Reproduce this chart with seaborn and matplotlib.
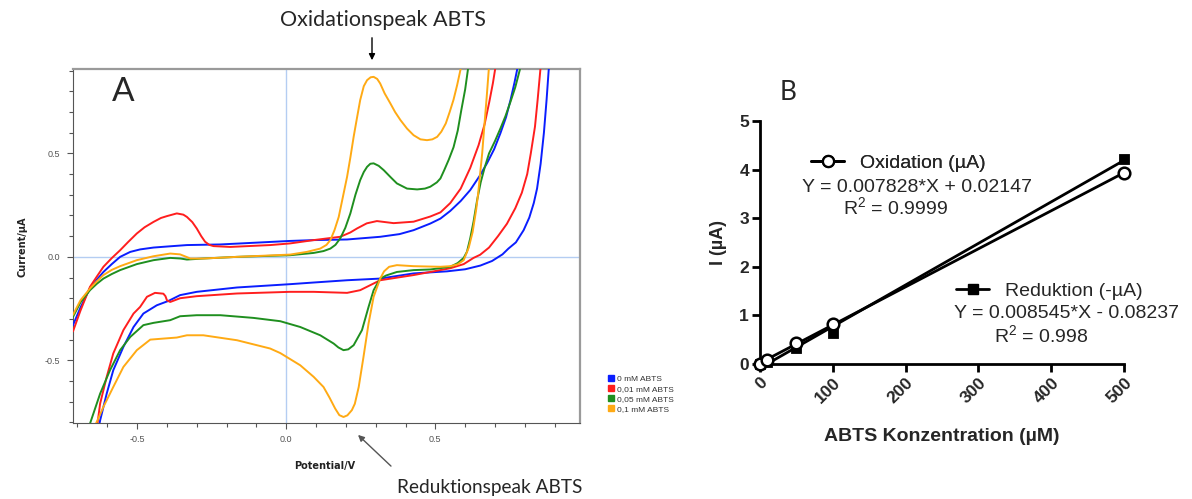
import matplotlib
matplotlib.use("Agg")
import matplotlib.pyplot as plt
from matplotlib.lines import Line2D
from matplotlib.ticker import MultipleLocator
import numpy as np
import pandas as pd
import seaborn as sns

# ---------------- Panel A: cyclic voltammograms (E in V, I in µA) ----------------
series_labels = ["0 mM ABTS", "0,01 mM ABTS", "0,05 mM ABTS", "0,1 mM ABTS"]
series_colors = ["#0a1eff", "#ff1e1e", "#1f8f1f", "#ffaa14"]

blue_fwd = [(-0.715, -0.33), (-0.69, -0.245), (-0.658, -0.15), (-0.635, -0.11), (-0.613, -0.073),
            (-0.585, -0.035), (-0.557, 0.0), (-0.523, 0.024), (-0.49, 0.036), (-0.445, 0.045),
            (-0.39, 0.051), (-0.333, 0.057), (-0.221, 0.06), (-0.11, 0.068), (0.013, 0.077),
            (0.092, 0.081), (0.204, 0.084), (0.315, 0.097), (0.38, 0.11), (0.427, 0.129),
            (0.483, 0.161), (0.517, 0.185), (0.55, 0.222), (0.585, 0.27), (0.617, 0.323),
            (0.648, 0.39), (0.673, 0.452), (0.697, 0.52), (0.718, 0.597), (0.737, 0.675),
            (0.752, 0.758), (0.765, 0.84), (0.774, 0.903), (0.782, 0.96)]
blue_rev = [(0.886, 0.96), (0.88, 0.903), (0.873, 0.76), (0.864, 0.6), (0.853, 0.45), (0.841, 0.33),
            (0.83, 0.26), (0.815, 0.19), (0.796, 0.129), (0.77, 0.07), (0.745, 0.04), (0.725, 0.012),
            (0.69, -0.02), (0.651, -0.042), (0.6, -0.06), (0.539, -0.07), (0.427, -0.08),
            (0.315, -0.105), (0.204, -0.113), (0.092, -0.124), (0.013, -0.132), (-0.165, -0.148),
            (-0.30, -0.169), (-0.356, -0.185), (-0.395, -0.213), (-0.434, -0.234), (-0.479, -0.274),
            (-0.512, -0.339), (-0.546, -0.435), (-0.58, -0.548), (-0.602, -0.661), (-0.624, -0.79),
            (-0.632, -0.85)]

red_fwd = [(-0.715, -0.36), (-0.69, -0.26), (-0.658, -0.145), (-0.635, -0.095), (-0.613, -0.048),
           (-0.585, -0.006), (-0.557, 0.032), (-0.53, 0.072), (-0.501, 0.113), (-0.475, 0.143),
           (-0.445, 0.169), (-0.42, 0.188), (-0.40, 0.197), (-0.367, 0.21), (-0.345, 0.204),
           (-0.333, 0.193), (-0.315, 0.168), (-0.30, 0.137), (-0.285, 0.1), (-0.272, 0.073),
           (-0.258, 0.058), (-0.244, 0.052), (-0.188, 0.048), (-0.054, 0.057), (0.013, 0.065),
           (0.092, 0.081), (0.181, 0.097), (0.215, 0.118), (0.237, 0.137), (0.27, 0.162),
           (0.304, 0.173), (0.36, 0.163), (0.427, 0.17), (0.483, 0.195), (0.517, 0.215),
           (0.55, 0.26), (0.585, 0.33), (0.617, 0.43), (0.645, 0.54), (0.665, 0.64),
           (0.681, 0.75), (0.693, 0.84), (0.7, 0.903), (0.706, 0.96)]
red_rev = [(0.856, 0.96), (0.852, 0.903), (0.843, 0.76), (0.834, 0.629), (0.82, 0.5), (0.808, 0.40),
           (0.79, 0.31), (0.768, 0.235), (0.74, 0.16), (0.71, 0.1), (0.68, 0.045), (0.65, 0.01),
           (0.628, -0.005), (0.595, -0.035), (0.55, -0.055), (0.483, -0.073), (0.427, -0.088),
           (0.315, -0.113), (0.248, -0.161), (0.204, -0.174), (0.092, -0.169), (0.013, -0.169),
           (-0.165, -0.177), (-0.30, -0.19), (-0.356, -0.20), (-0.389, -0.218), (-0.40, -0.21),
           (-0.405, -0.19), (-0.412, -0.178), (-0.44, -0.174), (-0.467, -0.193), (-0.49, -0.242),
           (-0.512, -0.274), (-0.546, -0.354), (-0.58, -0.467), (-0.602, -0.58), (-0.624, -0.709),
           (-0.633, -0.806), (-0.637, -0.85)]

green_fwd = [(-0.715, -0.29), (-0.69, -0.22), (-0.658, -0.161), (-0.635, -0.13), (-0.613, -0.105),
             (-0.585, -0.083), (-0.557, -0.064), (-0.501, -0.035), (-0.445, -0.016), (-0.389, -0.005),
             (-0.355, -0.008), (-0.333, -0.013), (-0.278, -0.008), (-0.165, 0.0), (0.013, 0.008),
             (0.092, 0.019), (0.125, 0.028), (0.148, 0.04), (0.165, 0.058), (0.181, 0.089),
             (0.198, 0.14), (0.215, 0.21), (0.232, 0.30), (0.248, 0.371), (0.26, 0.41),
             (0.271, 0.435), (0.282, 0.45), (0.293, 0.452), (0.31, 0.44), (0.327, 0.419),
             (0.35, 0.385), (0.371, 0.355), (0.405, 0.33), (0.439, 0.326), (0.465, 0.33),
             (0.483, 0.339), (0.505, 0.36), (0.517, 0.379), (0.53, 0.42), (0.545, 0.47),
             (0.561, 0.53), (0.575, 0.61), (0.587, 0.709), (0.6, 0.81), (0.609, 0.903), (0.614, 0.96)]
green_rev = [(0.788, 0.96), (0.783, 0.903), (0.768, 0.82), (0.752, 0.75), (0.735, 0.68), (0.718, 0.62),
             (0.7, 0.56), (0.68, 0.5), (0.665, 0.43), (0.652, 0.36), (0.64, 0.274), (0.628, 0.17),
             (0.617, 0.09), (0.606, 0.025), (0.595, -0.005), (0.575, -0.03), (0.55, -0.048),
             (0.483, -0.061), (0.427, -0.064), (0.371, -0.073), (0.335, -0.09), (0.315, -0.105),
             (0.293, -0.161), (0.276, -0.242), (0.254, -0.354), (0.226, -0.427), (0.208, -0.447),
             (0.192, -0.451), (0.175, -0.438), (0.159, -0.419), (0.114, -0.379), (0.047, -0.339),
             (-0.02, -0.311), (-0.11, -0.295), (-0.221, -0.282), (-0.30, -0.282), (-0.356, -0.287),
             (-0.389, -0.306), (-0.445, -0.319), (-0.479, -0.33), (-0.523, -0.387), (-0.557, -0.451),
             (-0.591, -0.548), (-0.624, -0.661), (-0.658, -0.806), (-0.665, -0.85)]

orange_fwd = [(-0.715, -0.28), (-0.69, -0.21), (-0.658, -0.153), (-0.635, -0.118), (-0.613, -0.088),
              (-0.585, -0.063), (-0.557, -0.045), (-0.501, -0.016), (-0.445, 0.003), (-0.389, 0.016),
              (-0.356, 0.012), (-0.335, 0.0), (-0.322, -0.008), (-0.278, -0.008), (-0.165, 0.0),
              (0.013, 0.011), (0.069, 0.024), (0.114, 0.04), (0.135, 0.058), (0.148, 0.081),
              (0.162, 0.13), (0.176, 0.193), (0.19, 0.29), (0.204, 0.387), (0.215, 0.48),
              (0.226, 0.58), (0.237, 0.67), (0.248, 0.758), (0.26, 0.825), (0.271, 0.854),
              (0.283, 0.868), (0.293, 0.87), (0.305, 0.86), (0.315, 0.838), (0.33, 0.79),
              (0.349, 0.742), (0.365, 0.70), (0.383, 0.661), (0.405, 0.62), (0.427, 0.588),
              (0.45, 0.568), (0.472, 0.564), (0.49, 0.568), (0.506, 0.58), (0.52, 0.605),
              (0.535, 0.645), (0.548, 0.7), (0.561, 0.76), (0.573, 0.83), (0.584, 0.903), (0.59, 0.96)]
orange_rev = [(0.682, 0.96), (0.679, 0.903), (0.672, 0.77), (0.664, 0.629), (0.657, 0.5), (0.65, 0.40),
              (0.643, 0.3), (0.637, 0.23), (0.625, 0.12), (0.612, 0.045), (0.595, -0.016),
              (0.575, -0.036), (0.55, -0.045), (0.517, -0.048), (0.427, -0.045), (0.371, -0.04),
              (0.345, -0.048), (0.328, -0.07), (0.315, -0.105), (0.293, -0.193), (0.276, -0.322),
              (0.259, -0.484), (0.243, -0.629), (0.23, -0.71), (0.22, -0.741), (0.205, -0.766),
              (0.192, -0.774), (0.178, -0.765), (0.164, -0.733), (0.145, -0.68), (0.125, -0.629),
              (0.092, -0.58), (0.047, -0.524), (-0.02, -0.465), (-0.054, -0.443), (-0.165, -0.403),
              (-0.278, -0.379), (-0.333, -0.379), (-0.367, -0.39), (-0.412, -0.395), (-0.456, -0.40),
              (-0.501, -0.451), (-0.546, -0.532), (-0.58, -0.629), (-0.613, -0.725), (-0.638, -0.806),
              (-0.645, -0.85)]

branches = [
    ("0 mM ABTS", "fwd", blue_fwd), ("0 mM ABTS", "rev", blue_rev),
    ("0,01 mM ABTS", "fwd", red_fwd), ("0,01 mM ABTS", "rev", red_rev),
    ("0,05 mM ABTS", "fwd", green_fwd), ("0,05 mM ABTS", "rev", green_rev),
    ("0,1 mM ABTS", "fwd", orange_fwd), ("0,1 mM ABTS", "rev", orange_rev),
]

# ---------------- Panel B: peak currents vs. concentration ----------------
conc_uM = [0, 10, 50, 100, 500]
ox_peak = [0.0, 0.09, 0.44, 0.83, 3.93]
red_peak = [0.0, 0.05, 0.32, 0.64, 4.22]
ox_slope, ox_icpt = 0.007828, 0.02147
red_slope, red_icpt = 0.008545, -0.08237

# ---------------- figure ----------------
sns.set_theme(style="white")
plt.rcParams["font.family"] = ["Liberation Sans", "DejaVu Sans"]
plt.rcParams["mathtext.fontset"] = "custom"
plt.rcParams["mathtext.rm"] = "Liberation Sans"
plt.rcParams["mathtext.it"] = "Liberation Sans:italic"
plt.rcParams["mathtext.bf"] = "Liberation Sans:bold"

W, H = 1192, 499
fig = plt.figure(figsize=(W / 100, H / 100), dpi=100)
fig.patch.set_facecolor("white")


def fx(px):
    return px / W


def fy(py):
    return 1 - py / H


# ---- panel A ----
axA = fig.add_axes([fx(73), fy(423), fx(580) - fx(73), fy(69) - fy(423)])
rows = []
for label, branch, pts in branches:
    for k, (e, i) in enumerate(pts):
        rows.append({"E": e, "I": i, "ABTS": label, "unit": f"{label}-{branch}", "k": k})
cv = pd.DataFrame(rows)

axA.axhline(0, color="#b4cdf2", lw=1.0, zorder=1)
axA.axvline(0, color="#b4cdf2", lw=1.0, zorder=1)
sns.lineplot(data=cv, x="E", y="I", hue="ABTS", hue_order=series_labels,
             palette=series_colors, units="unit", estimator=None, sort=False,
             lw=1.4, legend=False, ax=axA, zorder=3)
axA.set_xlim(-0.715, 0.985)
axA.set_ylim(-0.803, 0.908)
axA.xaxis.set_major_locator(MultipleLocator(0.5))
axA.xaxis.set_minor_locator(MultipleLocator(0.1))
axA.yaxis.set_major_locator(MultipleLocator(0.5))
axA.yaxis.set_minor_locator(MultipleLocator(0.1))
axA.xaxis.set_major_formatter(matplotlib.ticker.FormatStrFormatter("%.1f"))
axA.yaxis.set_major_formatter(matplotlib.ticker.FormatStrFormatter("%.1f"))
axA.tick_params(which="both", direction="out", color="#555555", labelcolor="#555555",
                labelsize=6.5, width=0.8, bottom=True, left=True)
axA.tick_params(which="major", length=4, pad=5)
axA.tick_params(which="minor", length=3)
for side in ["left", "bottom"]:
    axA.spines[side].set_color("#555555")
    axA.spines[side].set_linewidth(0.8)
for side in ["top", "right"]:
    axA.spines[side].set_color("#9a9a9a")
    axA.spines[side].set_linewidth(1.6)
axA.set_xlabel("")
axA.set_ylabel("")
fig.text(fx(23), fy(247), "Current/µA", rotation=90, ha="center", va="center",
         fontsize=7, fontweight="bold", family="DejaVu Sans", color="#222222")
fig.text(fx(325), fy(466), "Potential/V", ha="center", va="center",
         fontsize=7, fontweight="bold", family="DejaVu Sans", color="#222222")
fig.text(fx(123), fy(92), "A", ha="center", va="center", fontsize=24, family="Lato")

handlesA = [Line2D([], [], marker="s", linestyle="none", markersize=5, color=c) for c in series_colors]
fig.legend(handlesA, series_labels, loc="upper left", bbox_to_anchor=(fx(603), fy(371)),
           frameon=False, fontsize=6, handlelength=0.8, handletextpad=0.4,
           labelspacing=0.25, borderpad=0, labelcolor="#333333")

fig.text(fx(383), fy(20), "Oxidationspeak ABTS", ha="center", va="center",
         fontsize=15.5, family="Lato")
fig.add_artist(matplotlib.patches.FancyArrowPatch(
    (fx(372), fy(35)), (fx(372), fy(63)), transform=fig.transFigure,
    arrowstyle="-|>", mutation_scale=9, color="black", lw=1.0))
fig.text(fx(490), fy(487), "Reduktionspeak ABTS", ha="center", va="center",
         fontsize=13.7, family="Lato")
fig.add_artist(matplotlib.patches.FancyArrowPatch(
    (fx(393), fy(468)), (fx(356), fy(433)), transform=fig.transFigure,
    arrowstyle="-|>", mutation_scale=9, color="#555555", lw=1.0))

# ---- panel B ----
axB = fig.add_axes([fx(760), fy(364), fx(1124) - fx(760), fy(121) - fy(364)])
peaks = pd.DataFrame({"conc": conc_uM, "ox": ox_peak, "red": red_peak})
x_end = [min(conc_uM), max(conc_uM)]
fits = pd.DataFrame({
    "conc": x_end,
    "ox": [ox_slope * x + ox_icpt for x in x_end],
    "red": [red_slope * x + red_icpt for x in x_end],
})
sns.lineplot(data=fits, x="conc", y="red", color="black", lw=2, ax=axB, zorder=2)
sns.lineplot(data=fits, x="conc", y="ox", color="black", lw=2, ax=axB, zorder=2)
sns.scatterplot(data=peaks, x="conc", y="red", marker="s", s=55, color="black",
                edgecolor="black", ax=axB, zorder=4, clip_on=False)
sns.scatterplot(data=peaks, x="conc", y="ox", marker="o", s=70, facecolor="white",
                edgecolor="black", linewidth=1.8, ax=axB, zorder=5, clip_on=False)
axB.set_xlim(0, 500)
axB.set_ylim(0, 5)
axB.set_xticks([0, 100, 200, 300, 400, 500])
axB.set_yticks([0, 1, 2, 3, 4, 5])
sns.despine(ax=axB)
for side in ["left", "bottom"]:
    axB.spines[side].set_linewidth(2)
    axB.spines[side].set_color("black")
axB.tick_params(direction="out", length=6, width=2, color="black", labelsize=12.5,
                bottom=True, left=True, pad=2)
for lab in axB.get_xticklabels():
    lab.set_rotation(45)
    lab.set_ha("right")
    lab.set_va("top")
    lab.set_rotation_mode("anchor")
    lab.set_fontweight("bold")
for lab in axB.get_yticklabels():
    lab.set_fontweight("bold")
axB.set_xlabel("ABTS Konzentration (µM)", fontsize=14, fontweight="bold", labelpad=16)
axB.set_ylabel("I (µA)", fontsize=13, fontweight="bold", labelpad=9)
fig.text(fx(788), fy(92), "B", ha="center", va="center", fontsize=19, family="Lato")

h_ox = Line2D([], [], color="black", lw=2, marker="o", markersize=8,
              markerfacecolor="white", markeredgewidth=1.6)
h_red = Line2D([], [], color="black", lw=2, marker="s", markersize=7)
legB1 = fig.legend([h_ox], ["Oxidation (µA)"], loc="center left",
                   bbox_to_anchor=(fx(811), fy(163)), frameon=False, fontsize=14,
                   handlelength=1.7, handletextpad=0.8, borderpad=0, borderaxespad=0)
fig.legend([h_red], ["Reduktion (-µA)"], loc="center left",
           bbox_to_anchor=(fx(956), fy(291)), frameon=False, fontsize=14,
           handlelength=1.7, handletextpad=0.8, borderpad=0, borderaxespad=0)
fig.add_artist(legB1)
fig.text(fx(917), fy(187), f"Y = {ox_slope:.6f}*X + {ox_icpt:.5f}", ha="center", va="center", fontsize=14)
fig.text(fx(896), fy(207), r"R$^{2}$ = 0.9999", ha="center", va="center", fontsize=14)
fig.text(fx(1067), fy(313), f"Y = {red_slope:.6f}*X - {abs(red_icpt):.5f}", ha="center", va="center", fontsize=14)
fig.text(fx(1041), fy(335), r"R$^{2}$ = 0.998", ha="center", va="center", fontsize=14)

fig.savefig("out.png", dpi=100, facecolor="white")
